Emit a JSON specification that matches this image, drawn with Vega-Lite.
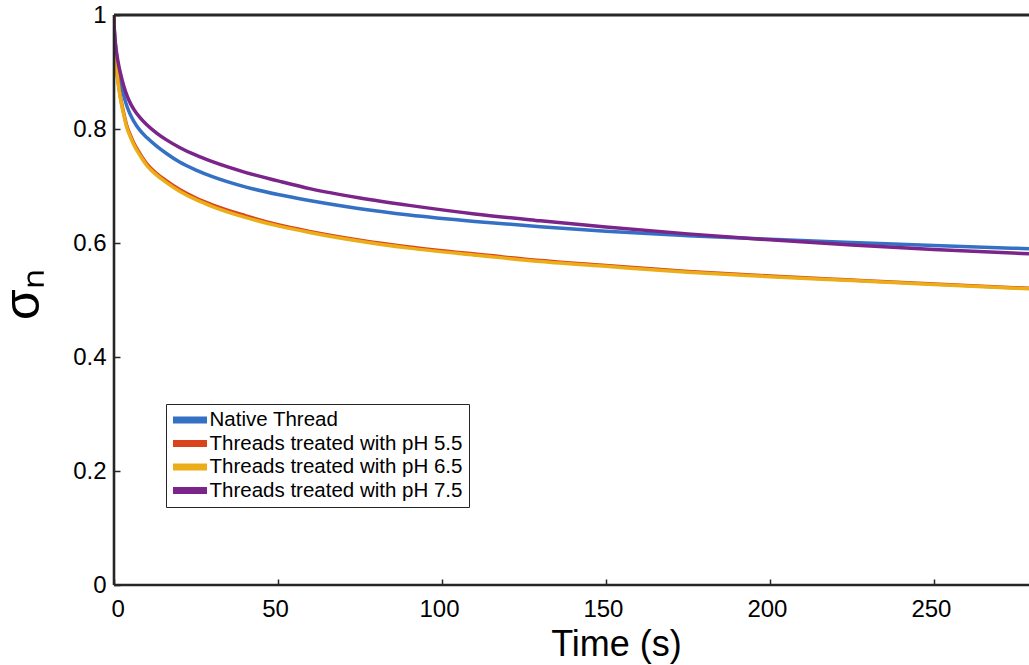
{
  "$schema": "https://vega.github.io/schema/vega-lite/v6.json",
  "width": 915,
  "height": 570,
  "autosize": {"type": "none"},
  "padding": {"left": 114, "top": 15, "right": 0, "bottom": 80},
  "background": "white",
  "config": {
    "view": {"stroke": null},
    "font": "Liberation Sans",
    "axis": {"grid": false, "domain": false, "ticks": true, "tickSize": 6, "offset": -6, "tickColor": "#262626", "tickWidth": 1.5, "labelFont": "Liberation Sans", "labelFontSize": 24, "labelColor": "#000000", "titleFont": "Liberation Sans", "titleColor": "#000000", "titleFontWeight": "normal"}
  },
  "datasets": {
    "curves": [
      {"t": 0, "s": 1.0, "series": "Native Thread"},
      {"t": 0.05, "s": 0.982, "series": "Native Thread"},
      {"t": 0.2, "s": 0.964, "series": "Native Thread"},
      {"t": 0.5, "s": 0.943, "series": "Native Thread"},
      {"t": 1, "s": 0.919, "series": "Native Thread"},
      {"t": 1.5, "s": 0.9, "series": "Native Thread"},
      {"t": 2, "s": 0.885, "series": "Native Thread"},
      {"t": 3, "s": 0.858, "series": "Native Thread"},
      {"t": 4, "s": 0.839, "series": "Native Thread"},
      {"t": 5, "s": 0.825, "series": "Native Thread"},
      {"t": 6, "s": 0.814, "series": "Native Thread"},
      {"t": 8, "s": 0.797, "series": "Native Thread"},
      {"t": 10, "s": 0.785, "series": "Native Thread"},
      {"t": 13, "s": 0.77, "series": "Native Thread"},
      {"t": 16, "s": 0.757, "series": "Native Thread"},
      {"t": 20, "s": 0.742, "series": "Native Thread"},
      {"t": 25, "s": 0.728, "series": "Native Thread"},
      {"t": 30, "s": 0.7165, "series": "Native Thread"},
      {"t": 40, "s": 0.6985, "series": "Native Thread"},
      {"t": 50, "s": 0.685, "series": "Native Thread"},
      {"t": 60, "s": 0.674, "series": "Native Thread"},
      {"t": 75, "s": 0.6602, "series": "Native Thread"},
      {"t": 90, "s": 0.6492, "series": "Native Thread"},
      {"t": 110, "s": 0.6379, "series": "Native Thread"},
      {"t": 130, "s": 0.6286, "series": "Native Thread"},
      {"t": 150, "s": 0.6206, "series": "Native Thread"},
      {"t": 175, "s": 0.6129, "series": "Native Thread"},
      {"t": 200, "s": 0.6064, "series": "Native Thread"},
      {"t": 225, "s": 0.6007, "series": "Native Thread"},
      {"t": 250, "s": 0.5954, "series": "Native Thread"},
      {"t": 279, "s": 0.59, "series": "Native Thread"},

      {"t": 0, "s": 1.0, "series": "Threads treated with pH 5.5"},
      {"t": 0.05, "s": 0.978, "series": "Threads treated with pH 5.5"},
      {"t": 0.2, "s": 0.953, "series": "Threads treated with pH 5.5"},
      {"t": 0.5, "s": 0.925, "series": "Threads treated with pH 5.5"},
      {"t": 1, "s": 0.895, "series": "Threads treated with pH 5.5"},
      {"t": 1.5, "s": 0.873, "series": "Threads treated with pH 5.5"},
      {"t": 2, "s": 0.855, "series": "Threads treated with pH 5.5"},
      {"t": 3, "s": 0.827, "series": "Threads treated with pH 5.5"},
      {"t": 4, "s": 0.804, "series": "Threads treated with pH 5.5"},
      {"t": 5, "s": 0.789, "series": "Threads treated with pH 5.5"},
      {"t": 6, "s": 0.776, "series": "Threads treated with pH 5.5"},
      {"t": 8, "s": 0.756, "series": "Threads treated with pH 5.5"},
      {"t": 10, "s": 0.739, "series": "Threads treated with pH 5.5"},
      {"t": 13, "s": 0.722, "series": "Threads treated with pH 5.5"},
      {"t": 16, "s": 0.709, "series": "Threads treated with pH 5.5"},
      {"t": 20, "s": 0.694, "series": "Threads treated with pH 5.5"},
      {"t": 25, "s": 0.679, "series": "Threads treated with pH 5.5"},
      {"t": 30, "s": 0.667, "series": "Threads treated with pH 5.5"},
      {"t": 40, "s": 0.648, "series": "Threads treated with pH 5.5"},
      {"t": 50, "s": 0.632, "series": "Threads treated with pH 5.5"},
      {"t": 60, "s": 0.62, "series": "Threads treated with pH 5.5"},
      {"t": 75, "s": 0.605, "series": "Threads treated with pH 5.5"},
      {"t": 90, "s": 0.593, "series": "Threads treated with pH 5.5"},
      {"t": 110, "s": 0.5805, "series": "Threads treated with pH 5.5"},
      {"t": 130, "s": 0.5694, "series": "Threads treated with pH 5.5"},
      {"t": 150, "s": 0.5606, "series": "Threads treated with pH 5.5"},
      {"t": 175, "s": 0.5502, "series": "Threads treated with pH 5.5"},
      {"t": 200, "s": 0.5422, "series": "Threads treated with pH 5.5"},
      {"t": 225, "s": 0.535, "series": "Threads treated with pH 5.5"},
      {"t": 250, "s": 0.528, "series": "Threads treated with pH 5.5"},
      {"t": 279, "s": 0.5205, "series": "Threads treated with pH 5.5"},

      {"t": 0, "s": 1.0, "series": "Threads treated with pH 6.5"},
      {"t": 0.05, "s": 0.975, "series": "Threads treated with pH 6.5"},
      {"t": 0.2, "s": 0.95, "series": "Threads treated with pH 6.5"},
      {"t": 0.5, "s": 0.922, "series": "Threads treated with pH 6.5"},
      {"t": 1, "s": 0.892, "series": "Threads treated with pH 6.5"},
      {"t": 1.5, "s": 0.87, "series": "Threads treated with pH 6.5"},
      {"t": 2, "s": 0.852, "series": "Threads treated with pH 6.5"},
      {"t": 3, "s": 0.824, "series": "Threads treated with pH 6.5"},
      {"t": 4, "s": 0.801, "series": "Threads treated with pH 6.5"},
      {"t": 5, "s": 0.786, "series": "Threads treated with pH 6.5"},
      {"t": 6, "s": 0.773, "series": "Threads treated with pH 6.5"},
      {"t": 8, "s": 0.753, "series": "Threads treated with pH 6.5"},
      {"t": 10, "s": 0.736, "series": "Threads treated with pH 6.5"},
      {"t": 13, "s": 0.719, "series": "Threads treated with pH 6.5"},
      {"t": 16, "s": 0.706, "series": "Threads treated with pH 6.5"},
      {"t": 20, "s": 0.691, "series": "Threads treated with pH 6.5"},
      {"t": 25, "s": 0.676, "series": "Threads treated with pH 6.5"},
      {"t": 30, "s": 0.664, "series": "Threads treated with pH 6.5"},
      {"t": 40, "s": 0.645, "series": "Threads treated with pH 6.5"},
      {"t": 50, "s": 0.63, "series": "Threads treated with pH 6.5"},
      {"t": 60, "s": 0.618, "series": "Threads treated with pH 6.5"},
      {"t": 75, "s": 0.603, "series": "Threads treated with pH 6.5"},
      {"t": 90, "s": 0.591, "series": "Threads treated with pH 6.5"},
      {"t": 110, "s": 0.5787, "series": "Threads treated with pH 6.5"},
      {"t": 130, "s": 0.5676, "series": "Threads treated with pH 6.5"},
      {"t": 150, "s": 0.559, "series": "Threads treated with pH 6.5"},
      {"t": 175, "s": 0.5487, "series": "Threads treated with pH 6.5"},
      {"t": 200, "s": 0.541, "series": "Threads treated with pH 6.5"},
      {"t": 225, "s": 0.534, "series": "Threads treated with pH 6.5"},
      {"t": 250, "s": 0.527, "series": "Threads treated with pH 6.5"},
      {"t": 279, "s": 0.5197, "series": "Threads treated with pH 6.5"},

      {"t": 0, "s": 1.0, "series": "Threads treated with pH 7.5"},
      {"t": 0.05, "s": 0.984, "series": "Threads treated with pH 7.5"},
      {"t": 0.2, "s": 0.966, "series": "Threads treated with pH 7.5"},
      {"t": 0.5, "s": 0.947, "series": "Threads treated with pH 7.5"},
      {"t": 1, "s": 0.926, "series": "Threads treated with pH 7.5"},
      {"t": 1.5, "s": 0.91, "series": "Threads treated with pH 7.5"},
      {"t": 2, "s": 0.897, "series": "Threads treated with pH 7.5"},
      {"t": 3, "s": 0.875, "series": "Threads treated with pH 7.5"},
      {"t": 4, "s": 0.858, "series": "Threads treated with pH 7.5"},
      {"t": 5, "s": 0.845, "series": "Threads treated with pH 7.5"},
      {"t": 6, "s": 0.835, "series": "Threads treated with pH 7.5"},
      {"t": 8, "s": 0.8194, "series": "Threads treated with pH 7.5"},
      {"t": 10, "s": 0.8074, "series": "Threads treated with pH 7.5"},
      {"t": 13, "s": 0.7928, "series": "Threads treated with pH 7.5"},
      {"t": 16, "s": 0.7809, "series": "Threads treated with pH 7.5"},
      {"t": 20, "s": 0.7676, "series": "Threads treated with pH 7.5"},
      {"t": 25, "s": 0.754, "series": "Threads treated with pH 7.5"},
      {"t": 30, "s": 0.7426, "series": "Threads treated with pH 7.5"},
      {"t": 40, "s": 0.724, "series": "Threads treated with pH 7.5"},
      {"t": 50, "s": 0.709, "series": "Threads treated with pH 7.5"},
      {"t": 60, "s": 0.695, "series": "Threads treated with pH 7.5"},
      {"t": 75, "s": 0.679, "series": "Threads treated with pH 7.5"},
      {"t": 90, "s": 0.666, "series": "Threads treated with pH 7.5"},
      {"t": 110, "s": 0.651, "series": "Threads treated with pH 7.5"},
      {"t": 130, "s": 0.639, "series": "Threads treated with pH 7.5"},
      {"t": 150, "s": 0.628, "series": "Threads treated with pH 7.5"},
      {"t": 175, "s": 0.616, "series": "Threads treated with pH 7.5"},
      {"t": 200, "s": 0.6055, "series": "Threads treated with pH 7.5"},
      {"t": 225, "s": 0.5965, "series": "Threads treated with pH 7.5"},
      {"t": 250, "s": 0.5885, "series": "Threads treated with pH 7.5"},
      {"t": 279, "s": 0.581, "series": "Threads treated with pH 7.5"}
    ]
  },
  "layer": [
    {
      "data": {"name": "curves"},
      "mark": {"type": "line", "strokeWidth": 3.5, "interpolate": "monotone", "clip": true},
      "encoding": {
        "x": {"field": "t", "type": "quantitative", "scale": {"domain": [0, 279], "nice": false},
          "axis": {"orient": "bottom", "values": [0, 50, 100, 150, 200, 250], "title": "Time (s)", "titleFontSize": 36, "labelPadding": 12, "labelOffset": -3, "titleX": 502, "titlePadding": 6}},
        "y": {"field": "s", "type": "quantitative", "scale": {"domain": [0, 1], "nice": false},
          "axis": {"orient": "left", "values": [0, 0.2, 0.4, 0.6, 0.8, 1], "format": "~g", "title": "σₙ", "titleFontSize": 50, "labelPadding": 8, "titlePadding": 24, "titleY": 279}},
        "color": {"field": "series", "type": "nominal",
          "scale": {"domain": ["Native Thread", "Threads treated with pH 5.5", "Threads treated with pH 6.5", "Threads treated with pH 7.5"], "range": ["#3471C4", "#D9441C", "#EBAD18", "#7B2489"]},
          "legend": {"title": null, "orient": "none", "legendX": 52, "legendY": 389, "symbolType": "stroke", "symbolSize": 1156, "symbolStrokeWidth": 7, "symbolOffset": -2.5, "clipHeight": 20, "rowPadding": 2.5, "labelFontSize": 20.5, "labelFont": "Liberation Sans", "labelColor": "#000000", "labelOffset": -1, "padding": 6, "strokeColor": "#262626", "fillColor": "white", "labelLimit": 400}}
      }
    },
    {
      "data": {"values": [{}]},
      "mark": {"type": "rule", "stroke": "#262626", "strokeWidth": 3, "clip": false},
      "encoding": {"y": {"datum": 1}, "x": {"datum": 0}, "x2": {"datum": 279}}
    },
    {
      "data": {"values": [{}]},
      "mark": {"type": "rule", "stroke": "#262626", "strokeWidth": 2.6, "clip": false},
      "encoding": {"y": {"datum": 0}, "x": {"datum": 0}, "x2": {"datum": 279}}
    },
    {
      "data": {"values": [{}]},
      "mark": {"type": "rule", "stroke": "#262626", "strokeWidth": 2.6, "clip": false},
      "encoding": {"x": {"datum": 0}, "y": {"datum": 0}, "y2": {"datum": 1}}
    }
  ]
}
